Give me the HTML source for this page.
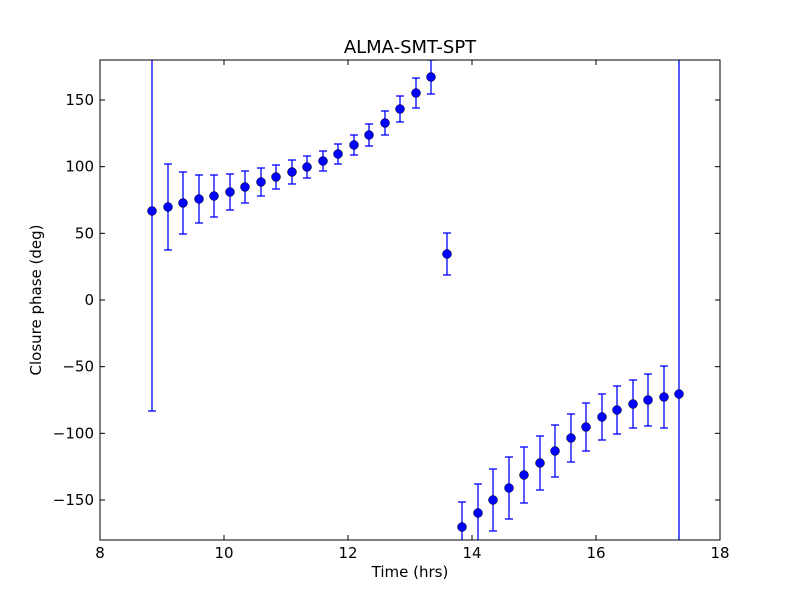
<!DOCTYPE html>
<html><head><meta charset="utf-8"><style>body{margin:0;background:#fff}svg{display:block}text{font-family:"DejaVu Sans","Liberation Sans",sans-serif;fill:#000}</style></head>
<body>
<svg width="800" height="600" viewBox="0 0 800 600" xmlns="http://www.w3.org/2000/svg">
<rect width="800" height="600" fill="#fff"/>
<defs><clipPath id="c"><rect x="100" y="60" width="620" height="480"/></clipPath></defs>
<g id="data" clip-path="url(#c)" stroke="#0000ff" stroke-width="1.3"></g>
<rect x="100" y="60" width="620" height="480" fill="none" stroke="#000" stroke-width="1"/>
<g id="ticks" stroke="#000" stroke-width="1"></g>
<g font-size="15" id="labels"></g>
<text x="410" y="53" font-size="18" text-anchor="middle">ALMA-SMT-SPT</text>
<text x="410" y="577" font-size="15" text-anchor="middle">Time (hrs)</text>
<text x="41" y="300" font-size="15" text-anchor="middle" transform="rotate(-90 41 300)">Closure phase (deg)</text>
</svg>
<script>
const pts=[[152,211,0,411],[168,207,164],[183,203,172],[199,199,175],[214,196,175],[230,192,174],[245,187,171],[261,182,168],[276,177,165],[292,172,160],[307,167,156],[323,161,151],[338,154,144],[354,145,135],[369,135,124],[385,123,111],[400,109,96],[416,93,78],[431,77,60],[447,254,233],[462,527,502],[478,513,484],[493,500,469],[509,488,457],[524,475,447],[540,463,436],[555,451,425],[571,438,414],[586,427,403],[602,417,394],[617,410,386],[633,404,380],[648,400,374],[664,397,366],[679,394,0,600]];
const NS="http://www.w3.org/2000/svg";
function el(p,t,a){const e=document.createElementNS(NS,t);for(const k in a)e.setAttribute(k,a[k]);p.appendChild(e);return e;}
const d=document.getElementById('data');
for(const p of pts){const [x,y,t]=p;const b=p.length>3?p[3]:2*y-t;
 el(d,'line',{x1:x,y1:t,x2:x,y2:b});
 el(d,'line',{x1:x-4,y1:t,x2:x+4,y2:t});
 el(d,'line',{x1:x-4,y1:b,x2:x+4,y2:b});
}
for(const [x,y] of pts) el(d,'circle',{cx:x,cy:y,r:4.5,fill:'#0000ff',stroke:'#000','stroke-width':0.5});
const tk=document.getElementById('ticks'),lb=document.getElementById('labels');
for(let v=8;v<=18;v+=2){const x=100+(v-8)*62;
 el(tk,'line',{x1:x,y1:540,x2:x,y2:535});el(tk,'line',{x1:x,y1:60,x2:x,y2:65});
 const t=el(lb,'text',{x:x,y:558,'text-anchor':'middle'});t.textContent=v;}
for(let v=-150;v<=150;v+=50){const y=300-v*480/360;
 el(tk,'line',{x1:100,y1:y,x2:105,y2:y});el(tk,'line',{x1:720,y1:y,x2:715,y2:y});
 const t=el(lb,'text',{x:94,y:y+5,'text-anchor':'end'});t.textContent=v<0?'\u2212'+(-v):v;}
</script>
</body></html>
